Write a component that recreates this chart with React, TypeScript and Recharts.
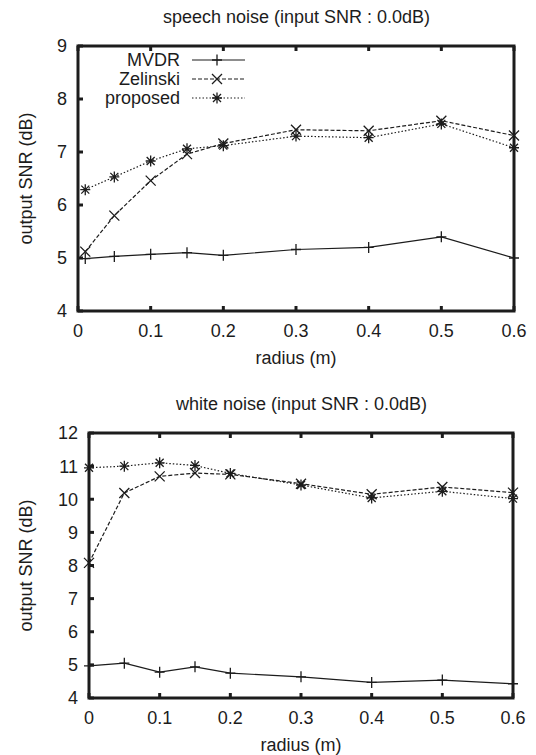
import React from "react";
import { LineChart, Line, XAxis, YAxis, ReferenceArea, Legend } from "recharts";

// radius of the array (m)
const radiusSpeech = [0.01, 0.05, 0.1, 0.15, 0.2, 0.3, 0.4, 0.5, 0.6];
const radiusWhite = [0, 0.05, 0.1, 0.15, 0.2, 0.3, 0.4, 0.5, 0.6];

// output SNR (dB), speech noise
const speechMvdr = [4.99, 5.03, 5.07, 5.1, 5.05, 5.16, 5.2, 5.4, 5.0];
const speechZelinski = [5.12, 5.8, 6.46, 6.96, 7.16, 7.42, 7.4, 7.59, 7.31];
const speechProposed = [6.29, 6.53, 6.83, 7.06, 7.12, 7.3, 7.27, 7.53, 7.08];

// output SNR (dB), white noise
const whiteMvdr = [4.97, 5.05, 4.78, 4.94, 4.75, 4.64, 4.47, 4.54, 4.43];
const whiteZelinski = [8.08, 10.19, 10.69, 10.79, 10.75, 10.47, 10.15, 10.37, 10.2];
const whiteProposed = [10.95, 11.0, 11.1, 11.02, 10.78, 10.43, 10.04, 10.24, 10.02];

const xTicks = [0, 0.1, 0.2, 0.3, 0.4, 0.5, 0.6];
const speechYTicks = [4, 5, 6, 7, 8, 9];
const whiteYTicks = [4, 5, 6, 7, 8, 9, 10, 11, 12];

const INK = "#1c1c1c";
const FONT = "'Liberation Sans', Arial, Helvetica, sans-serif";
const TICK_LEN = 5;

type MarkerKind = "plus" | "cross" | "star";

const SERIES: { key: string; name: string; marker: MarkerKind; dash?: string }[] = [
  { key: "mvdr", name: "MVDR", marker: "plus" },
  { key: "zelinski", name: "Zelinski", marker: "cross", dash: "4 2" },
  { key: "proposed", name: "proposed", marker: "star", dash: "1.5 2" },
];

const speechData = radiusSpeech.map((r, i) => ({
  r,
  mvdr: speechMvdr[i],
  zelinski: speechZelinski[i],
  proposed: speechProposed[i],
}));

const whiteData = radiusWhite.map((r, i) => ({
  r,
  mvdr: whiteMvdr[i],
  zelinski: whiteZelinski[i],
  proposed: whiteProposed[i],
}));

function markerPath(kind: MarkerKind, x: number, y: number) {
  const plus = `M${x - 5},${y}H${x + 5}M${x},${y - 5.5}V${y + 5.5}`;
  const cross = (r: number) =>
    `M${x - r},${y - r}L${x + r},${y + r}M${x - r},${y + r}L${x + r},${y - r}`;
  if (kind === "plus") return plus;
  if (kind === "cross") return cross(5);
  return plus + cross(4);
}

const makeDot = (kind: MarkerKind) => (props: any) => {
  const { cx, cy, index } = props;
  if (cx == null || cy == null) return <g key={`m-${kind}-${index}`} />;
  return (
    <path
      key={`m-${kind}-${index}`}
      d={markerPath(kind, cx, cy)}
      stroke={INK}
      strokeWidth={1.3}
      fill="none"
    />
  );
};

// gnuplot style: ticks point into the plot, labels outside
const X_GAP = 13;
const Y_GAP = 11;
const fmtX = (v: number) => (v === 0 ? "0" : v.toFixed(1));

const BottomTick = (props: any) => {
  const { x, y, payload } = props;
  const base = y - X_GAP;
  return (
    <g>
      <line x1={x} x2={x} y1={base} y2={base - TICK_LEN} stroke={INK} strokeWidth={3} />
      <text x={x} y={y} dy="0.71em" textAnchor="middle" fontSize={18} fill={INK} fontFamily={FONT}>
        {fmtX(payload.value)}
      </text>
    </g>
  );
};

const LeftTick = (props: any) => {
  const { x, y, payload } = props;
  const base = x + Y_GAP;
  return (
    <g>
      <line x1={base} x2={base + TICK_LEN} y1={y} y2={y} stroke={INK} strokeWidth={3} />
      <text x={x} y={y} dy="0.355em" textAnchor="end" fontSize={18} fill={INK} fontFamily={FONT}>
        {payload.value}
      </text>
    </g>
  );
};

const TopTick = (props: any) => {
  const { x, y } = props;
  return <line x1={x} x2={x} y1={y} y2={y + TICK_LEN} stroke={INK} strokeWidth={3} />;
};

const RightTick = (props: any) => {
  const { x, y } = props;
  return <line x1={x} x2={x - TICK_LEN} y1={y} y2={y} stroke={INK} strokeWidth={3} />;
};

function LegendContent(props: any) {
  const names = SERIES.map((s) => s.name);
  const items = [...(props.payload ?? [])].sort(
    (a: any, b: any) => names.indexOf(a.value) - names.indexOf(b.value),
  );
  return (
    <svg width={260} height={110} style={{ display: "block", overflow: "visible" }}>
      {items.map((item: any, i: number) => {
        const s = SERIES.find((x) => x.name === item.value) ?? SERIES[0];
        const y = 60 + i * 19;
        return (
          <g key={item.value}>
            <text
              x={180}
              y={y}
              textAnchor="end"
              dominantBaseline="central"
              fontSize={18}
              fill={INK}
              fontFamily={FONT}
            >
              {item.value}
            </text>
            <line
              x1={192}
              x2={245}
              y1={y}
              y2={y}
              stroke={INK}
              strokeWidth={1.2}
              strokeDasharray={s.dash}
            />
            <path d={markerPath(s.marker, 217, y)} stroke={INK} strokeWidth={1.3} fill="none" />
          </g>
        );
      })}
    </svg>
  );
}

interface PanelProps {
  title: string;
  data: Record<string, number>[];
  yTicks: number[];
  top: number;
  height: number;
  plotTop: number;
  yAxisWidth: number;
  right: number;
  xAxisHeight: number;
  showLegend?: boolean;
}

function Panel({
  title,
  data,
  yTicks,
  top,
  height,
  plotTop,
  yAxisWidth,
  right,
  xAxisHeight,
  showLegend,
}: PanelProps) {
  const plotHeight = 266;
  const yMin = yTicks[0];
  const yMax = yTicks[yTicks.length - 1];

  return (
    <div style={{ position: "absolute", left: 0, top, width: 536, height }}>
      <div
        style={{
          position: "absolute",
          left: yAxisWidth,
          width: 536 - yAxisWidth - right,
          top: plotTop - 28 - 11,
          height: 22,
          lineHeight: "22px",
          textAlign: "center",
          fontSize: 18,
          color: INK,
          fontFamily: FONT,
          zIndex: 1,
        }}
      >
        {title}
      </div>
      <LineChart
        width={536}
        height={height}
        data={data}
        margin={{ top: plotTop, right, left: 0, bottom: height - plotTop - plotHeight - xAxisHeight }}
        style={{ fontFamily: FONT }}
      >
        <ReferenceArea
          x1={0}
          x2={0.6}
          y1={yMin}
          y2={yMax}
          fill="none"
          stroke={INK}
          strokeWidth={3}
          fillOpacity={0}
          strokeOpacity={1}
        />
        <XAxis
          dataKey="r"
          type="number"
          domain={[0, 0.6]}
          ticks={xTicks}
          axisLine={false}
          tickLine={false}
          tickSize={0}
          tickMargin={X_GAP}
          tick={BottomTick}
          height={xAxisHeight}
          interval={0}
          label={(p: any) => {
            const vb = p.viewBox ?? {};
            return (
              <text
                x={vb.x + vb.width / 2}
                y={vb.y + 47}
                textAnchor="middle"
                dominantBaseline="central"
                fontSize={18}
                fill={INK}
                fontFamily={FONT}
              >
                radius (m)
              </text>
            );
          }}
        />
        <XAxis
          xAxisId="top"
          dataKey="r"
          orientation="top"
          type="number"
          domain={[0, 0.6]}
          ticks={xTicks}
          axisLine={false}
          tickLine={false}
          tickSize={0}
          tickMargin={0}
          tick={TopTick}
          height={1}
          interval={0}
        />
        <YAxis
          type="number"
          domain={[yMin, yMax]}
          ticks={yTicks}
          axisLine={false}
          tickLine={false}
          tickSize={0}
          tickMargin={Y_GAP}
          tick={LeftTick}
          width={yAxisWidth}
          interval={0}
          label={(p: any) => {
            const vb = p.viewBox ?? {};
            const x = vb.x + 26;
            const y = vb.y + vb.height / 2;
            return (
              <text
                x={x}
                y={y}
                transform={`rotate(-90, ${x}, ${y})`}
                textAnchor="middle"
                dominantBaseline="central"
                fontSize={18}
                fill={INK}
                fontFamily={FONT}
              >
                output SNR (dB)
              </text>
            );
          }}
        />
        <YAxis
          yAxisId="right"
          orientation="right"
          type="number"
          domain={[yMin, yMax]}
          ticks={yTicks}
          axisLine={false}
          tickLine={false}
          tickSize={0}
          tickMargin={0}
          tick={RightTick}
          width={1}
          interval={0}
        />
        {showLegend && (
          <Legend
            layout="vertical"
            align="center"
            verticalAlign="middle"
            content={LegendContent}
            wrapperStyle={{ left: 0, top: 0, width: 260, height: 110 }}
          />
        )}
        {SERIES.map((s) => (
          <Line
            key={s.key}
            type="linear"
            dataKey={s.key}
            name={s.name}
            stroke={INK}
            strokeWidth={1.2}
            strokeDasharray={s.dash}
            dot={makeDot(s.marker)}
            activeDot={false}
            isAnimationActive={false}
          />
        ))}
      </LineChart>
    </div>
  );
}

export default function App() {
  return (
    <div
      style={{
        position: "absolute",
        left: 0,
        top: 0,
        width: 536,
        height: 755,
        background: "#fff",
        fontFamily: FONT,
      }}
    >
      <Panel
        title="speech noise (input SNR : 0.0dB)"
        data={speechData}
        yTicks={speechYTicks}
        top={0}
        height={380}
        plotTop={45}
        yAxisWidth={78}
        right={21}
        xAxisHeight={60}
        showLegend
      />
      <Panel
        title="white noise (input SNR : 0.0dB)"
        data={whiteData}
        yTicks={whiteYTicks}
        top={380}
        height={375}
        plotTop={52}
        yAxisWidth={89}
        right={22}
        xAxisHeight={50}
      />
    </div>
  );
}
